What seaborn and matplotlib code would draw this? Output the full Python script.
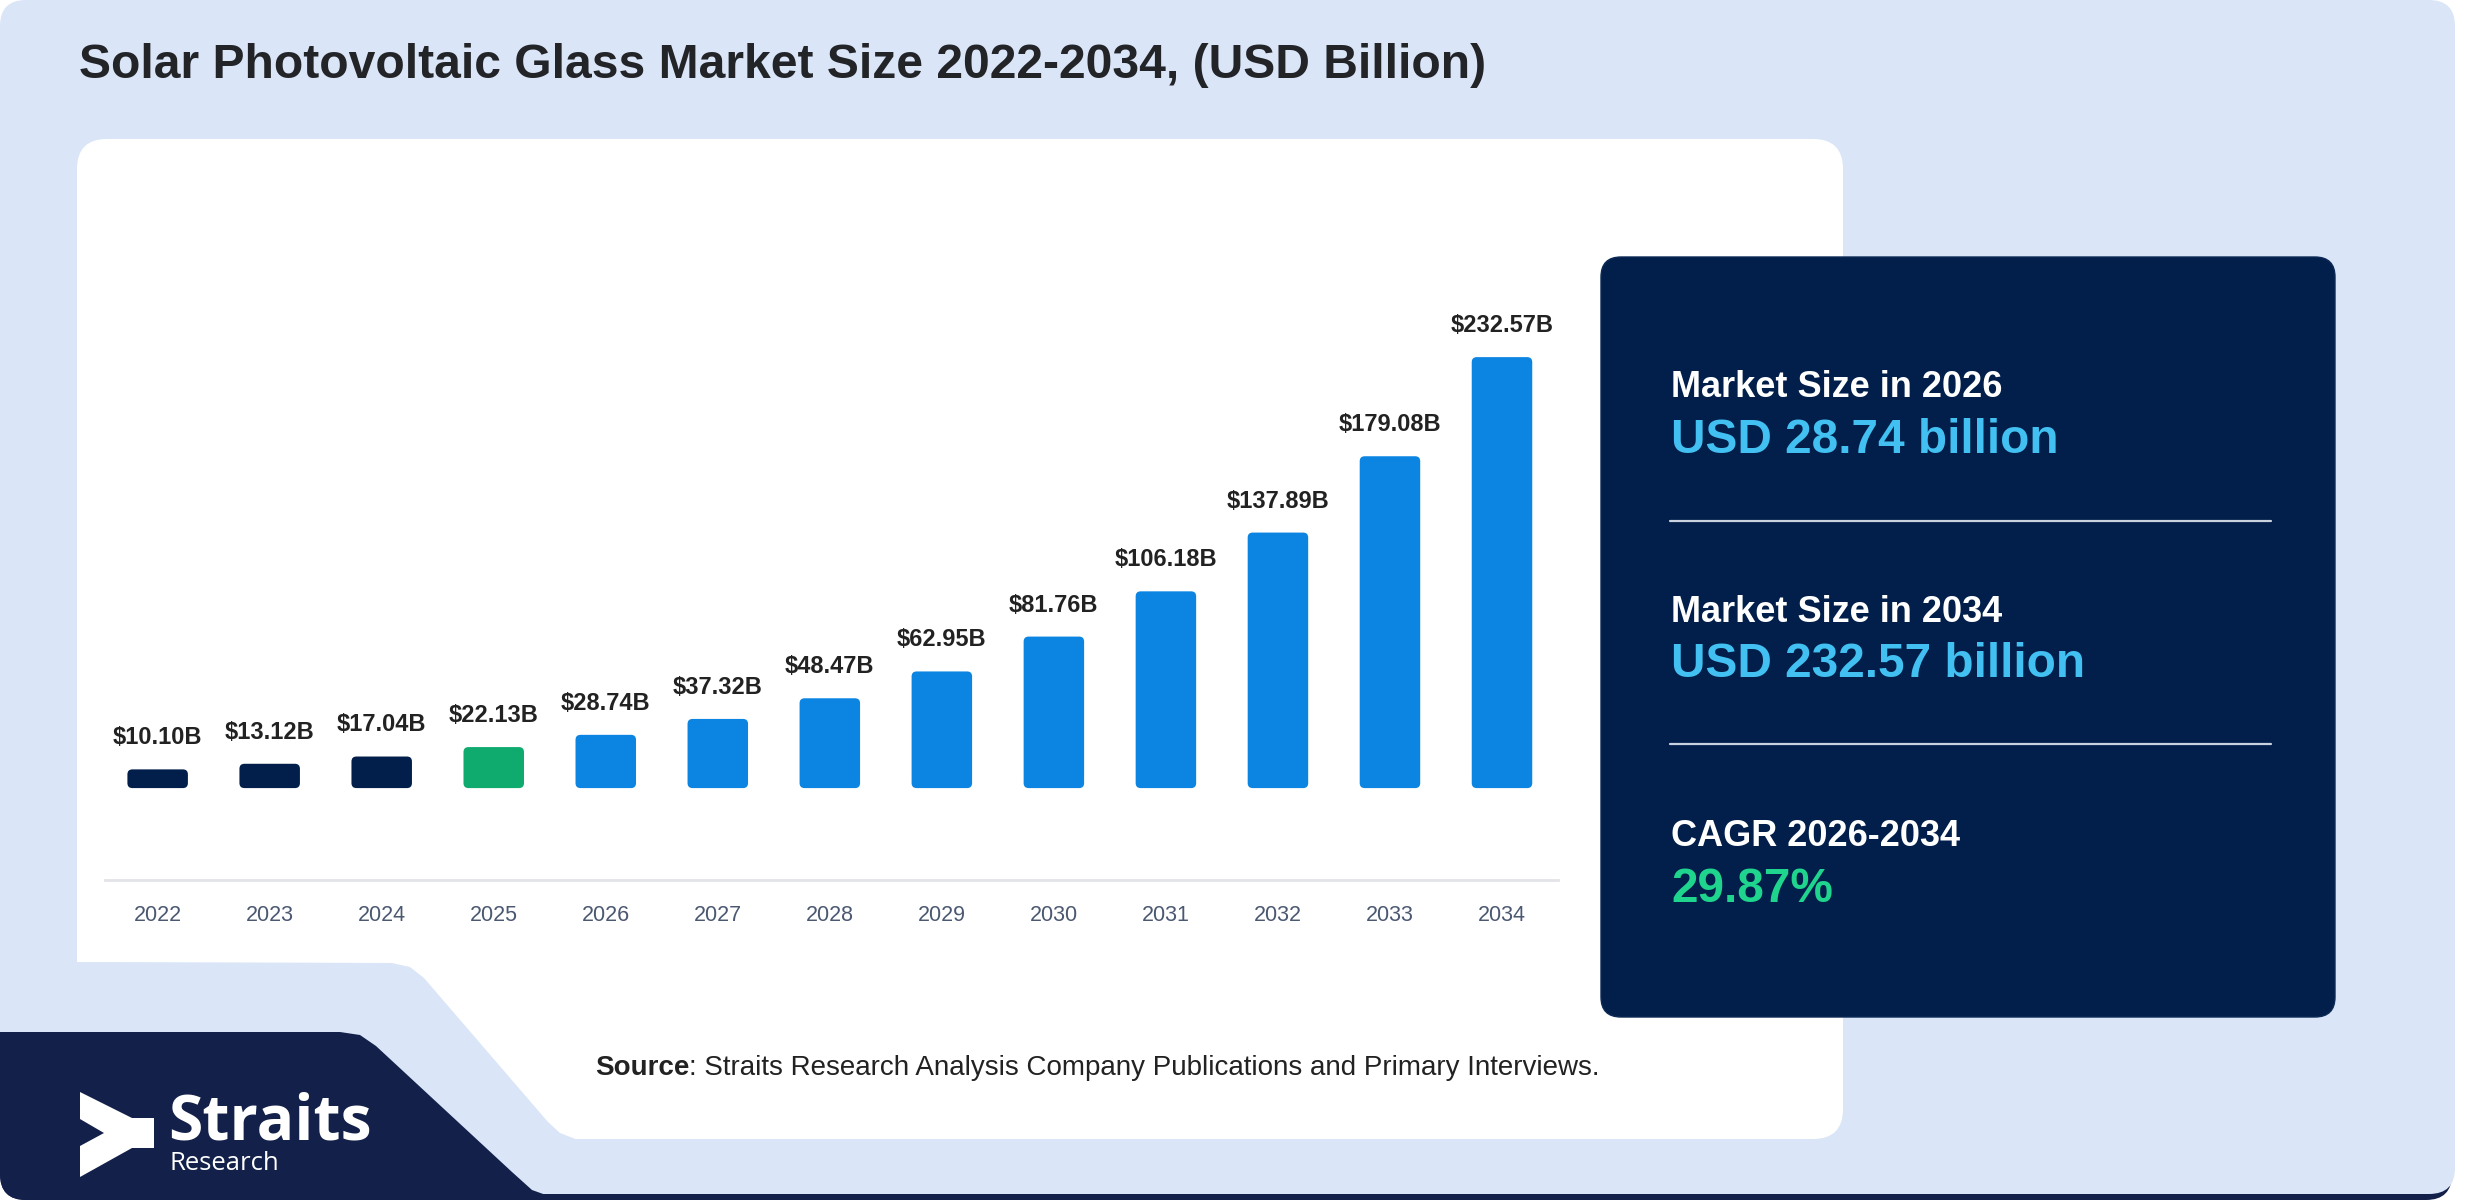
import numpy as np
import pandas as pd
import matplotlib
matplotlib.use("Agg")
import matplotlib.pyplot as plt
import seaborn as sns
from matplotlib.patches import FancyBboxPatch, Polygon

# ---------------- data ----------------
years = ["2022", "2023", "2024", "2025", "2026", "2027", "2028",
         "2029", "2030", "2031", "2032", "2033", "2034"]
values = [10.10, 13.12, 17.04, 22.13, 28.74, 37.32, 48.47,
          62.95, 81.76, 106.18, 137.89, 179.08, 232.57]
value_labels = ["$10.10B", "$13.12B", "$17.04B", "$22.13B", "$28.74B", "$37.32B",
                "$48.47B", "$62.95B", "$81.76B", "$106.18B", "$137.89B",
                "$179.08B", "$232.57B"]
bar_colors = ["#021f4b", "#021f4b", "#021f4b", "#0eaa6e"] + ["#0b84e2"] * 9

title = "Solar Photovoltaic Glass Market Size 2022-2034, (USD Billion)"
panel_items = [("Market Size in 2026", "USD 28.74 billion", "#41c0f1"),
               ("Market Size in 2034", "USD 232.57 billion", "#41c0f1"),
               ("CAGR 2026-2034", "29.87%", "#1fd58e")]
source_bold = "Source"
source_rest = ": Straits Research Analysis Company Publications and Primary Interviews."

sns.set_theme(style="white")
plt.rcParams['font.family'] = ['Liberation Sans', 'DejaVu Sans']

W, H = 2480, 1200
fig = plt.figure(figsize=(24.8, 12), dpi=100, facecolor="white")

# ---------------- background / decoration layer (pixel coords) ----------------
bg = fig.add_axes([0, 0, 1, 1])
bg.set_xlim(0, W)
bg.set_ylim(H, 0)
bg.axis("off")

LIGHT = "#dae6f8"
NAVY = "#13214a"

shadow = FancyBboxPatch((0, 8), 2452, 1192, boxstyle="round,pad=0,rounding_size=26",
                        fc=NAVY, ec="none", zorder=0)
bg.add_patch(shadow)
base = FancyBboxPatch((0, 0), 2455, 1194, boxstyle="round,pad=0,rounding_size=26",
                      fc=LIGHT, ec="none", zorder=1)
bg.add_patch(base)

# white chart card
card = FancyBboxPatch((77, 139), 1843 - 77, 1139 - 139,
                      boxstyle="round,pad=0,rounding_size=30",
                      fc="white", ec="none", zorder=2)
bg.add_patch(card)
# cut-out at the lower left of the card
cut = Polygon([(40, 962), (106, 962), (392, 963), (410, 967), (424, 978),
               (548, 1122), (560, 1133), (578, 1140), (578, 1160), (40, 1160)],
              closed=True, fc=LIGHT, ec="none", zorder=3)
bg.add_patch(cut)

# navy logo block at the bottom-left
navy = Polygon([(0, 1032), (340, 1032), (360, 1035), (376, 1046), (512, 1172),
                (532, 1190), (560, 1200), (0, 1200)],
               closed=True, fc=NAVY, ec="none", zorder=4)
bg.add_patch(navy)
navy.set_clip_path(shadow)

# logo arrow
arrow = Polygon([(80, 1092), (132, 1118), (154, 1118), (154, 1148), (132, 1148),
                 (80, 1177), (80, 1146), (104, 1133), (80, 1119)],
                closed=True, fc="white", ec="none", zorder=5)
bg.add_patch(arrow)
bg.text(168, 1140, "Straits", fontsize=45, fontweight="bold", color="white",
        family=["Open Sans", "DejaVu Sans"], va="baseline", ha="left", zorder=6)
bg.text(170, 1170, "Research", fontsize=18.5, color="white",
        family=["Open Sans", "DejaVu Sans"], va="baseline", ha="left", zorder=6)

# title
bg.text(79, 78, title, fontsize=34.6, fontweight="bold", color="#222428",
        va="baseline", ha="left", zorder=6)

# dark info panel
panel = FancyBboxPatch((1601, 257), 2335 - 1601, 1017 - 257,
                       boxstyle="round,pad=0,rounding_size=20",
                       fc="#011f4a", ec="#0c2a55", lw=1, zorder=6)
bg.add_patch(panel)
label_base = [397, 622, 846]
value_base = [453, 677, 902]
for (lab, val, col), lb, vb in zip(panel_items, label_base, value_base):
    bg.text(1671, lb, lab, fontsize=26, fontweight="bold", color="white",
            va="baseline", ha="left", zorder=7)
    bg.text(1671, vb, val, fontsize=34.4, fontweight="bold", color=col,
            va="baseline", ha="left", zorder=7)
for yy in [521, 744]:
    bg.plot([1670, 2271], [yy, yy], color="#c9d2de", lw=1.6, zorder=7)

# source line
t1 = bg.text(595, 1075, source_bold, fontsize=20, fontweight="bold", color="#222222",
             va="baseline", ha="left", zorder=7)
fig.canvas.draw()
r = fig.canvas.get_renderer()
bb = t1.get_window_extent(renderer=r)
bg.text(bb.x1, 1075, source_rest, fontsize=20, color="#222222",
        va="baseline", ha="left", zorder=7)

# ---------------- bar chart ----------------
left, right = 105 / W, 1558 / W
bottom, top = 1 - 880 / H, 1 - 300 / H
ax = fig.add_axes([left, bottom, right - left, top - bottom])
ax.set_facecolor("none")
ax.set_zorder(10)

df = pd.DataFrame({"year": years, "value": values})
sns.barplot(data=df, x="year", y="value", hue="year",
            palette=dict(zip(years, bar_colors)), legend=False,
            width=0.54, saturation=1, ax=ax)

XMIN, XMAX = -0.47, 12.5
YMIN, YMAX = -49.6, 263.4
ax.set_xlim(XMIN, XMAX)
ax.set_ylim(YMIN, YMAX)

# give the bars slightly rounded corners
px_per_x = (right - left) * W / (XMAX - XMIN)
px_per_y = (top - bottom) * H / (YMAX - YMIN)
rad_px = 5
for p in list(ax.patches):
    x0, y0 = p.get_x(), p.get_y()
    w, h = p.get_width(), p.get_height()
    fb = FancyBboxPatch((x0, y0), w, h,
                        boxstyle=f"round,pad=0,rounding_size={rad_px / px_per_x}",
                        mutation_aspect=px_per_x / px_per_y,
                        fc=p.get_facecolor(), ec="none", zorder=p.get_zorder())
    ax.add_patch(fb)
    p.set_visible(False)

for i, (v, lab) in enumerate(zip(values, value_labels)):
    ax.text(i, v + 13.5, lab, ha="center", va="baseline", fontsize=17,
            fontweight="bold", color="#222222")

for s in ["top", "right", "left"]:
    ax.spines[s].set_visible(False)
ax.spines["bottom"].set_color("#e2e4e8")
ax.spines["bottom"].set_linewidth(2)
ax.set_yticks([])
ax.set_xlabel("")
ax.set_ylabel("")
ax.tick_params(axis="x", length=0, pad=18, labelsize=15.5, labelcolor="#4b5872")
ax.grid(False)

fig.savefig("out.png", dpi=100, facecolor="white")
